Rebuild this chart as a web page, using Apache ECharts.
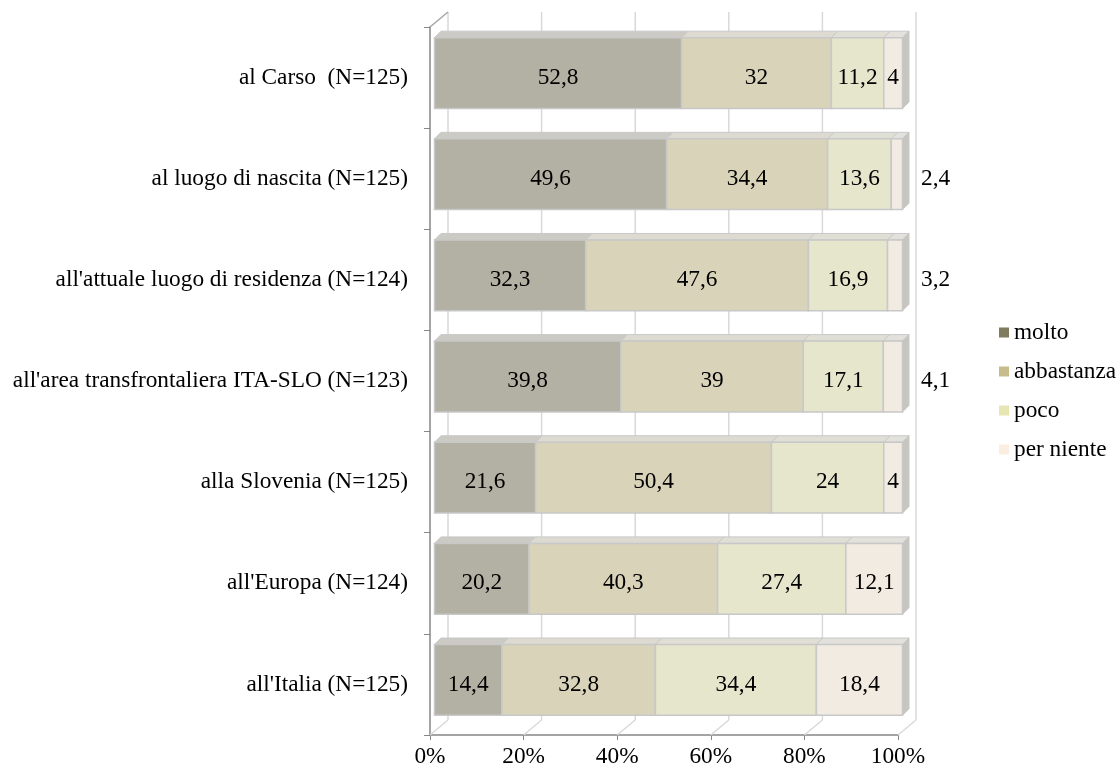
<!DOCTYPE html>
<html>
<head>
<meta charset="utf-8">
<script src="https://cdn.jsdelivr.net/npm/echarts@6/dist/echarts.min.js"></script>
<style>
  html, body { margin: 0; padding: 0; background: #ffffff; }
  #chart { width: 1116px; height: 772px; }
</style>
</head>
<body>
<div id="chart"></div>
<script>
// Categories (top to bottom) and the share of each answer, in percent
const categories = [
  'al Carso  (N=125)',
  'al luogo di nascita (N=125)',
  "all'attuale luogo di residenza (N=124)",
  "all'area transfrontaliera ITA-SLO (N=123)",
  'alla Slovenia (N=125)',
  "all'Europa (N=124)",
  "all'Italia (N=125)"
];
const seriesNames = ['molto', 'abbastanza', 'poco', 'per niente'];
const molto      = [52.8, 49.6, 32.3, 39.8, 21.6, 20.2, 14.4];
const abbastanza = [32, 34.4, 47.6, 39, 50.4, 40.3, 32.8];
const poco       = [11.2, 13.6, 16.9, 17.1, 24, 27.4, 34.4];
const perNiente  = [4, 2.4, 3.2, 4.1, 4, 12.1, 18.4];
const xTicks     = [0, 20, 40, 60, 80, 100];

const levels = [molto, abbastanza, poco, perNiente];

// Colours: legend swatches, lit front faces, top faces
const legendColors = ['#7f7b5f', '#c6bc8c', '#e6e6b2', '#fbeee0'];
const frontColors  = ['#b3b1a3', '#d9d3ba', '#e5e6cc', '#f2ebe1'];
const topColors    = ['#cbcac4', '#dddbd1', '#dfdfd6', '#e3e1dc'];
const sideColor    = '#c6c5c0';
const edgeColor    = '#c8c8c8';

const FONT = '"Liberation Serif", "Times New Roman", serif';
const FONT_SIZE = 23.3;

// Oblique projection of the 3D box
const WALL_DX = 18, WALL_DY = -15;   // depth of the plot box
const BAR_OFF = 4.5;                 // bars sit slightly behind the front plane
const BAR_D = 6.5;                   // depth of each bar

const measureCtx = document.createElement('canvas').getContext('2d');
measureCtx.font = FONT_SIZE + 'px ' + FONT;
function textWidth(s) { return measureCtx.measureText(s).width; }
function fmt(v) { return String(v).replace('.', ','); }

// Build [category, start, end, value] rows per level (stacked)
const cumulative = categories.map(() => 0);
const levelData = levels.map(vals => vals.map((v, i) => {
  const start = cumulative[i];
  cumulative[i] += v;
  return [i, start, cumulative[i], v];
}));

function makeBarRenderer(levelIdx) {
  const isLast = levelIdx === levels.length - 1;
  return function (params, api) {
    const cat = api.value(0), start = api.value(1), end = api.value(2), val = api.value(3);
    const p0 = api.coord([start, cat]);
    const p1 = api.coord([end, cat]);
    const bandH = api.size([0, 1])[1];
    const h = bandH * 0.70;
    const x0 = p0[0] + BAR_OFF, x1 = p1[0] + BAR_OFF;
    const yc = p0[1] - BAR_OFF;
    const yT = yc - h / 2, yB = yc + h / 2;
    const children = [
      {
        type: 'polygon',
        shape: { points: [[x0, yT], [x1, yT], [x1 + BAR_D, yT - BAR_D], [x0 + BAR_D, yT - BAR_D]] },
        style: { fill: topColors[levelIdx], stroke: edgeColor, lineWidth: 1 }
      },
      {
        type: 'rect',
        shape: { x: x0, y: yT, width: x1 - x0, height: h },
        style: { fill: frontColors[levelIdx], stroke: edgeColor, lineWidth: 1.5 }
      }
    ];
    if (isLast) {
      children.push({
        type: 'polygon',
        shape: { points: [[x1, yT], [x1 + BAR_D, yT - BAR_D], [x1 + BAR_D, yB - BAR_D], [x1, yB]] },
        style: { fill: sideColor, stroke: edgeColor, lineWidth: 1 }
      });
    }
    const label = fmt(val);
    const fits = textWidth(label) + 4 < (x1 - x0);
    children.push({
      type: 'text',
      z2: 10,
      style: fits ? {
        x: (x0 + x1) / 2, y: p0[1], text: label, align: 'center', verticalAlign: 'middle',
        font: FONT_SIZE + 'px ' + FONT, fill: '#000000'
      } : {
        x: x1 + BAR_D + 12, y: p0[1], text: label, align: 'left', verticalAlign: 'middle',
        font: FONT_SIZE + 'px ' + FONT, fill: '#000000'
      }
    });
    return { type: 'group', children: children };
  };
}

// Back wall gridlines, floor diagonals and the left wall top edge
function renderWalls(params, api) {
  const cs = params.coordSys;
  const v = api.value(0);
  const x = api.coord([v, 0])[0];
  const top = cs.y, bottom = cs.y + cs.height;
  const children = [
    { type: 'line', shape: { x1: x + WALL_DX, y1: top + WALL_DY, x2: x + WALL_DX, y2: bottom + WALL_DY },
      style: { stroke: '#d9d9d9', lineWidth: 1.5 } },
    { type: 'line', shape: { x1: x, y1: bottom, x2: x + WALL_DX, y2: bottom + WALL_DY },
      style: { stroke: '#d9d9d9', lineWidth: 1.5 } }
  ];
  if (v === xTicks[0]) {
    children.push({ type: 'line', shape: { x1: x, y1: top, x2: x + WALL_DX, y2: top + WALL_DY },
      style: { stroke: '#a6a6a6', lineWidth: 1.5 } });
  }
  return { type: 'group', children: children };
}

const series = [{
  type: 'custom',
  name: 'walls',
  silent: true,
  clip: false,
  z: 1,
  renderItem: renderWalls,
  encode: { x: 0 },
  data: xTicks.map(v => [v, 0])
}];
levels.forEach((vals, li) => {
  series.push({
    type: 'custom',
    name: seriesNames[li],
    clip: false,
    z: 2 + li,
    itemStyle: { color: legendColors[li] },
    renderItem: makeBarRenderer(li),
    encode: { x: [1, 2], y: 0 },
    data: levelData[li]
  });
});

const chart = echarts.init(document.getElementById('chart'), null, { renderer: 'canvas' });
chart.setOption({
  backgroundColor: '#ffffff',
  animation: false,
  textStyle: { fontFamily: FONT },
  grid: { left: 430, right: 218, top: 27, bottom: 37 },
  legend: {
    orient: 'vertical',
    left: 994,
    top: 316,
    icon: 'rect',
    itemWidth: 10,
    itemHeight: 10,
    itemGap: 16,
    data: seriesNames,
    textStyle: { fontFamily: FONT, fontSize: FONT_SIZE, color: '#000000', lineHeight: 23 }
  },
  xAxis: {
    type: 'value',
    min: 0,
    max: 100,
    interval: 20,
    axisLine: { show: true, lineStyle: { color: '#868686', width: 1.5 } },
    axisTick: { show: true, length: 5, lineStyle: { color: '#868686' } },
    splitLine: { show: false },
    axisLabel: { formatter: '{value}%', fontFamily: FONT, fontSize: FONT_SIZE, color: '#000000', margin: 10 }
  },
  yAxis: {
    type: 'category',
    inverse: true,
    data: categories,
    axisLine: { show: true, lineStyle: { color: '#868686', width: 1.5 } },
    axisTick: { show: true, length: 6, lineStyle: { color: '#868686' } },
    axisLabel: { fontFamily: FONT, fontSize: FONT_SIZE, color: '#000000', margin: 22 }
  },
  series: series
});
</script>
</body>
</html>
